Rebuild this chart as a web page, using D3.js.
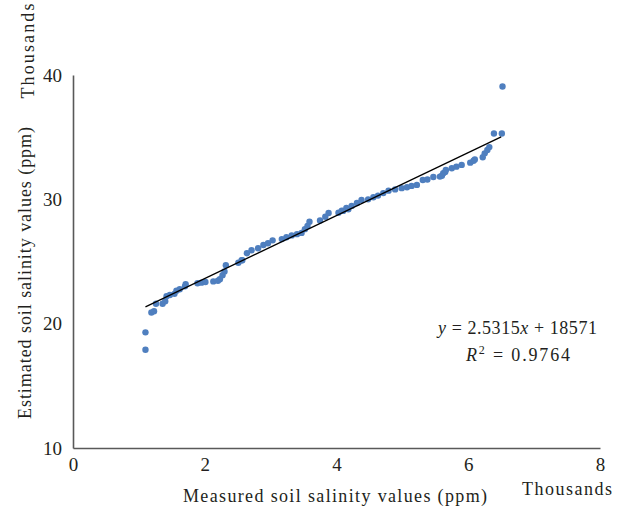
<!DOCTYPE html>
<html><head><meta charset="utf-8">
<script src="https://cdn.jsdelivr.net/npm/d3@7"></script>
<style>body{margin:0;background:#fff}svg{display:block}text{font-family:"Liberation Serif","DejaVu Serif",serif;fill:#231f20}</style>
</head><body><div id="chart"></div>
<script>
// Data in thousands of ppm
const measured = [1.10,1.10,1.19,1.23,1.26,1.36,1.40,1.42,1.47,1.54,1.57,1.62,1.70,1.71,1.89,1.95,2.01,2.13,2.20,2.23,2.27,2.30,2.32,2.51,2.56,2.57,2.64,2.71,2.81,2.89,2.96,3.03,3.17,3.24,3.32,3.40,3.47,3.52,3.56,3.59,3.75,3.83,3.88,4.03,4.08,4.10,4.15,4.18,4.23,4.31,4.38,4.48,4.56,4.63,4.71,4.79,4.89,4.99,5.07,5.14,5.22,5.31,5.38,5.47,5.57,5.60,5.62,5.65,5.66,5.75,5.82,5.90,6.03,6.08,6.10,6.22,6.25,6.29,6.32,6.39,6.51,6.52];
const estimated = [17.9,19.3,20.9,21.0,21.6,21.6,21.8,22.2,22.3,22.4,22.65,22.77,23.0,23.17,23.25,23.3,23.35,23.4,23.45,23.57,23.9,24.2,24.7,24.9,25.1,25.1,25.66,25.9,26.07,26.33,26.47,26.7,26.8,26.95,27.1,27.2,27.3,27.6,27.86,28.2,28.3,28.6,28.9,28.93,29.09,29.07,29.3,29.2,29.47,29.7,29.95,30.0,30.17,30.3,30.5,30.7,30.8,30.9,30.97,31.08,31.16,31.56,31.6,31.8,31.83,31.9,32.1,32.2,32.36,32.5,32.63,32.77,32.95,33.1,33.2,33.39,33.7,33.97,34.2,35.3,35.3,39.07];
const xTicks = [0,2,4,6,8];
const yTicks = [10,20,30,40];
const slope = 2.5315, intercept = 18.571; // y = 2.5315x + 18571 (ppm)
const fitRange = [1.1, 6.5];

const W = 623, H = 510;
const svg = d3.select("#chart").append("svg").attr("width", W).attr("height", H);
const x = d3.scaleLinear().domain([0, 8]).range([73, 600]);
const y = d3.scaleLinear().domain([10, 40]).range([448, 75]);

const axisColor = "#595959";
const xAxis = svg.append("g").attr("transform", `translate(0,${y(10)})`)
  .call(d3.axisBottom(x).tickValues(xTicks).tickSize(0).tickPadding(10).tickFormat(d3.format("d")));
const yAxis = svg.append("g").attr("transform", `translate(${x(0)},0)`)
  .call(d3.axisLeft(y).tickValues(yTicks).tickSize(0).tickPadding(11).tickFormat(d3.format("d")));
[xAxis, yAxis].forEach(g => {
  g.select(".domain").attr("stroke", axisColor).attr("stroke-width", 1.6);
  g.selectAll("text").style("font-family", '"Liberation Serif",serif').style("font-size", "19px").attr("fill", "#231f20");
});
xAxis.selectAll("text").attr("dy", "0.71em");

svg.append("g").selectAll("circle").data(measured.map((m, i) => [m, estimated[i]]))
  .join("circle").attr("cx", d => x(d[0])).attr("cy", d => y(d[1])).attr("r", 3.2)
  .attr("fill", "#4f7fbf");

svg.append("line")
  .attr("x1", x(fitRange[0])).attr("y1", y(slope * fitRange[0] + intercept))
  .attr("x2", x(fitRange[1])).attr("y2", y(slope * fitRange[1] + intercept))
  .attr("stroke", "#000").attr("stroke-width", 1.3);

function fit(t, len) { t.attr("textLength", len).attr("lengthAdjust", "spacing"); return t; }

fit(svg.append("text").attr("x", 335).attr("y", 502).attr("text-anchor", "middle")
  .style("font-size", "18px").text("Measured soil salinity values (ppm)"), 304);
fit(svg.append("text").attr("x", 567).attr("y", 495).attr("text-anchor", "middle")
  .style("font-size", "18px").text("Thousands"), 90);
fit(svg.append("text").attr("transform", "translate(31,273) rotate(-90)").attr("text-anchor", "middle")
  .style("font-size", "18px").text("Estimated soil salinity values (ppm)"), 292);
fit(svg.append("text").attr("transform", "translate(34,51) rotate(-90)").attr("text-anchor", "middle")
  .style("font-size", "18px").text("Thousands"), 95);

const eq = svg.append("text").attr("x", 438).attr("y", 334).style("font-size", "18px");
eq.append("tspan").style("font-style", "italic").text("y");
eq.append("tspan").text(" = 2.5315");
eq.append("tspan").style("font-style", "italic").text("x");
eq.append("tspan").text(" + 18571");
fit(eq, 159);
const r2 = svg.append("text").attr("x", 466).attr("y", 361).style("font-size", "18px");
r2.append("tspan").style("font-style", "italic").text("R");
r2.append("tspan").attr("dy", -7).style("font-size", "12px").text("2");
r2.append("tspan").attr("dy", 7).text(" = 0.9764");
fit(r2, 104);
</script></body></html>
